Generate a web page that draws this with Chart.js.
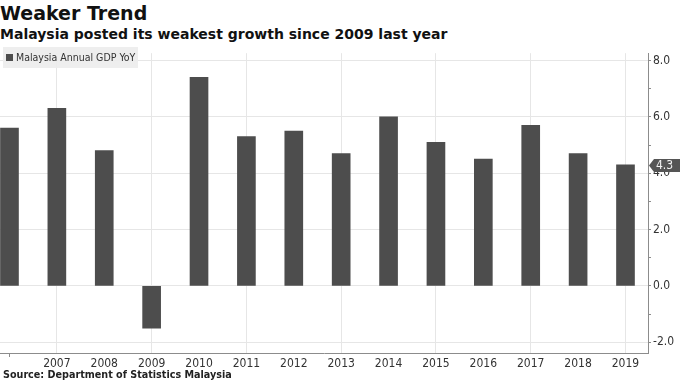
<!DOCTYPE html>
<html>
<head>
<meta charset="utf-8">
<script src="https://cdn.jsdelivr.net/npm/chart.js@4/dist/chart.umd.min.js"></script>
<style>
  html, body { margin: 0; padding: 0; background: #fff; }
  #wrap { position: relative; width: 680px; height: 382px; overflow: hidden; background: #fff; }
  .t { position: absolute; left: 0; white-space: nowrap; color: #111; }
  #title { top: 1px; font: bold 19px "DejaVu Sans", sans-serif; line-height: 24px; }
  #subtitle { top: 25px; font: bold 14px "DejaVu Sans", sans-serif; line-height: 18px; }
  #source { left: 3px; top: 368px; font: bold 10.7px "DejaVu Sans Condensed", "DejaVu Sans", sans-serif; line-height: 14px; color: #222; }
  #legend { position: absolute; left: 3px; top: 47px; width: 135px; height: 21px; background: rgba(236,236,236,0.9); }
  #legend .sw { position: absolute; left: 3px; top: 7px; width: 7px; height: 7px; background: #4d4d4d; }
  #legend .lt { position: absolute; left: 13px; top: 3px; font: 10.5px "DejaVu Sans Condensed", "DejaVu Sans", sans-serif; line-height: 15px; color: #333; white-space: nowrap; }
  #cv { position: absolute; left: 0; top: 44px; }
</style>
</head>
<body>
<div id="wrap">
  <div class="t" id="title">Weaker Trend</div>
  <div class="t" id="subtitle">Malaysia posted its weakest growth since 2009 last year</div>
  <canvas id="cv" width="680" height="326"></canvas>
  <div id="legend"><div class="sw"></div><div class="lt" id="legendText"></div></div>
  <div class="t" id="source">Source: Department of Statistics Malaysia</div>
</div>
<script>
// ---- data ----
const seriesName = "Malaysia Annual GDP YoY";
const years = [2006, 2007, 2008, 2009, 2010, 2011, 2012, 2013, 2014, 2015, 2016, 2017, 2018, 2019];
const gdpYoY = [5.6, 6.3, 4.8, -1.5, 7.4, 5.3, 5.5, 4.7, 6.0, 5.1, 4.5, 5.7, 4.7, 4.3];
const yTickLabels = [-2, 0, 2, 4, 6, 8];
const firstLabeledYear = 2007;

document.getElementById('legendText').textContent = seriesName;

const condensed = '"DejaVu Sans Condensed", "DejaVu Sans", sans-serif';

const lastValueBadge = {
  id: 'lastValueBadge',
  afterDraw(chart) {
    const ys = chart.scales.y;
    const v = gdpYoY[gdpYoY.length - 1];
    const y = Math.round(ys.getPixelForValue(v)) + 0.5;
    const x0 = chart.chartArea.right + 1;
    const ctx = chart.ctx;
    ctx.save();
    ctx.fillStyle = '#555555';
    ctx.beginPath();
    ctx.moveTo(x0, y);
    ctx.lineTo(x0 + 5, y - 6.5);
    ctx.lineTo(chart.width, y - 6.5);
    ctx.lineTo(chart.width, y + 6.5);
    ctx.lineTo(x0 + 5, y + 6.5);
    ctx.closePath();
    ctx.fill();
    ctx.fillStyle = '#f2f2f2';
    ctx.font = '12px ' + condensed;
    ctx.textBaseline = 'middle';
    ctx.textAlign = 'left';
    ctx.fillText(v.toFixed(1), x0 + 7, y + 0.5);
    ctx.restore();
  }
};

new Chart(document.getElementById('cv'), {
  type: 'bar',
  data: {
    datasets: [{
      label: seriesName,
      data: years.map((yr, i) => ({ x: yr, y: gdpYoY[i] })),
      backgroundColor: '#4d4d4d',
      borderWidth: 0,
      barThickness: 18
    }]
  },
  options: {
    responsive: false,
    animation: false,
    layout: { padding: { left: 0, right: 0, top: 3, bottom: 0 } },
    plugins: { legend: { display: false }, tooltip: { enabled: false }, title: { display: false } },
    scales: {
      x: {
        type: 'linear',
        min: 2005.8,
        max: 2019.475,
        offset: false,
        afterFit(s) { s.height = 17; },
        border: { display: true, color: '#8c8c8c', width: 1 },
        grid: {
          offset: false,
          color: (c) => (c.tick && c.tick.value % 2 === 1) ? '#e6e6e6' : 'rgba(0,0,0,0)',
          tickColor: (c) => (c.tick && c.tick.value === years[0]) ? '#8c8c8c' : 'rgba(0,0,0,0)',
          tickLength: 4,
          lineWidth: 1
        },
        ticks: {
          stepSize: 1,
          includeBounds: false,
          autoSkip: false,
          maxRotation: 0,
          padding: 0,
          color: '#333',
          font: { family: condensed, size: 12 },
          callback: (v) => (years.includes(v) && v >= firstLabeledYear) ? String(v) : ''
        }
      },
      y: {
        position: 'right',
        min: -2.38,
        max: 8.26,
        afterFit(s) { s.width = 32; },
        border: { display: true, color: '#8c8c8c', width: 1 },
        grid: {
          color: (c) => (c.tick && yTickLabels.includes(c.tick.value)) ? '#e6e6e6' : 'rgba(0,0,0,0)',
          tickColor: '#8c8c8c',
          tickLength: 3,
          lineWidth: 1
        },
        ticks: {
          stepSize: 1,
          includeBounds: false,
          padding: 2,
          color: '#333',
          font: { family: condensed, size: 12 },
          callback: (v) => yTickLabels.includes(v) ? v.toFixed(1) : ''
        }
      }
    }
  },
  plugins: [lastValueBadge]
});
</script>
</body>
</html>
